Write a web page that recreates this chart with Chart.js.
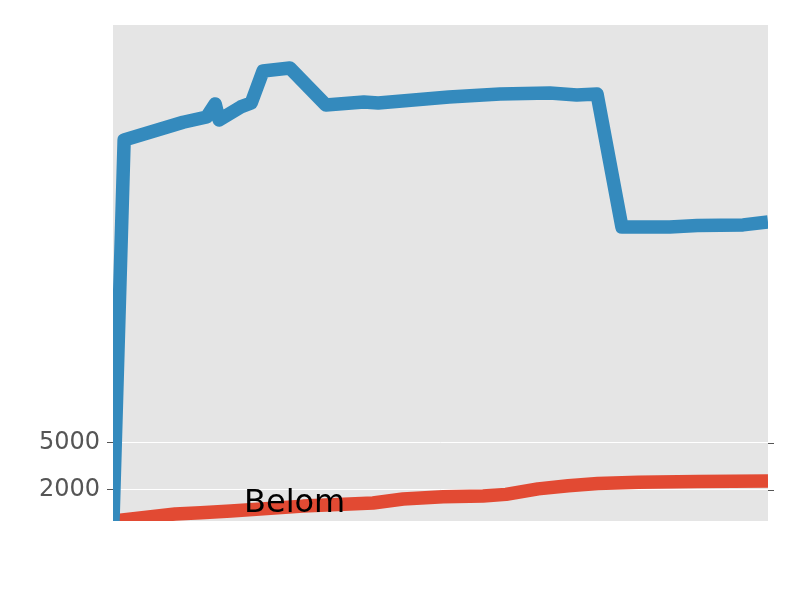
<!DOCTYPE html>
<html>
<head>
<meta charset="utf-8">
<script src="https://cdn.jsdelivr.net/npm/chart.js@4.4.0/dist/chart.umd.min.js"></script>
<style>
html,body{margin:0;padding:0;background:#fff;}
#wrap{width:800px;height:600px;}
</style>
</head>
<body>
<div id="wrap"><canvas id="c" width="800" height="600"></canvas></div>
<script>
// Data
const blueX = [0, 1.7, 10.7, 14.3, 15.6, 16.2, 19.5, 21.1, 22.9, 27.0, 32.5, 38.3, 40.5, 51.3, 59.1, 66.7, 70.8, 73.9, 77.7, 85.0, 89.2, 96.2, 100];
const blueY = [0, 24320, 25450, 25790, 26620, 25600, 26430, 26680, 28720, 28910, 26550, 26740, 26680, 27060, 27250, 27320, 27190, 27250, 18770, 18770, 18860, 18900, 19090];
const redX = [0, 9.5, 13.4, 18.0, 29.0, 39.7, 44.3, 50.4, 56.5, 60.0, 64.9, 69.5, 74.0, 80.2, 89.3, 100];
const redY = [0, 450, 520, 640, 950, 1150, 1400, 1550, 1600, 1700, 2050, 2250, 2400, 2480, 2520, 2550];
const yTickValues = [2000, 5000];
const yMin = 0, yMax = 31660;
const xMin = 0, xMax = 100;
const annotationText = 'Belom';
const annotationX = 20;
const annotationY = 574;

const toPts = (xs, ys) => xs.map((x, i) => ({x: x, y: ys[i]}));

const bgPlugin = {
  id: 'bg',
  beforeDraw(chart) {
    const {ctx, chartArea: a} = chart;
    ctx.save();
    ctx.fillStyle = '#E5E5E5';
    ctx.fillRect(a.left, a.top, a.right - a.left, a.bottom - a.top);
    ctx.restore();
  },
  afterDraw(chart) {
    const {ctx, chartArea: a, scales} = chart;
    ctx.save();
    // right-side tick marks
    ctx.strokeStyle = '#555555';
    ctx.lineWidth = 1;
    yTickValues.forEach(v => {
      const y = Math.round(scales.y.getPixelForValue(v)) + 0.5;
      ctx.beginPath();
      ctx.moveTo(a.right, y);
      ctx.lineTo(a.right + 6, y);
      ctx.stroke();
    });
    // text annotation
    ctx.fillStyle = '#000000';
    ctx.font = '32px "DejaVu Sans"';
    ctx.textAlign = 'left';
    ctx.textBaseline = 'alphabetic';
    ctx.fillText(annotationText, scales.x.getPixelForValue(annotationX), scales.y.getPixelForValue(annotationY));
    ctx.restore();
  }
};

new Chart(document.getElementById('c'), {
  type: 'line',
  data: {
    datasets: [
      {
        data: toPts(blueX, blueY),
        borderColor: '#348ABD',
        borderWidth: 13.5,
        borderJoinStyle: 'round',
        borderCapStyle: 'butt',
        pointRadius: 0,
        tension: 0,
        fill: false,
        clip: 0
      },
      {
        data: toPts(redX, redY),
        borderColor: '#E24A33',
        borderWidth: 13.5,
        borderJoinStyle: 'round',
        borderCapStyle: 'butt',
        pointRadius: 0,
        tension: 0,
        fill: false,
        clip: 0
      }
    ]
  },
  options: {
    responsive: false,
    animation: false,
    layout: {padding: {top: 25, right: 32, bottom: 79, left: 0}},
    plugins: {legend: {display: false}, tooltip: {enabled: false}},
    scales: {
      x: {
        type: 'linear',
        display: false,
        min: xMin,
        max: xMax
      },
      y: {
        type: 'linear',
        min: yMin,
        max: yMax,
        afterFit(scale) { scale.width = 113; },
        afterBuildTicks(scale) { scale.ticks = yTickValues.map(v => ({value: v})); },
        border: {display: false},
        grid: {
          color: '#FFFFFF',
          lineWidth: 1,
          drawTicks: true,
          tickLength: 6,
          tickColor: '#555555'
        },
        ticks: {
          color: '#555555',
          padding: 7,
          font: {family: 'DejaVu Sans', size: 24},
          callback: (v) => String(v)
        }
      }
    }
  },
  plugins: [bgPlugin]
});
</script>
</body>
</html>
